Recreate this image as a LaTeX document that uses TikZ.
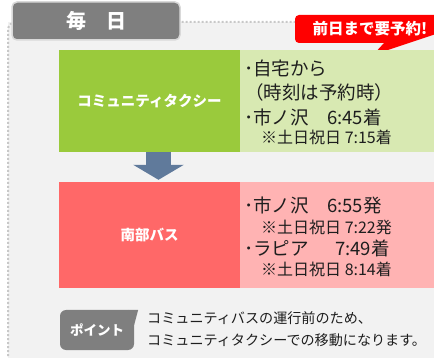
\documentclass[tikz,border=0pt]{standalone}
\usepackage{fontspec}
\setmainfont{Noto Sans CJK JP}
\usetikzlibrary{arrows.meta}

\definecolor{panelgray}{RGB}{242,242,242}
\definecolor{dotgray}{RGB}{200,200,200}
\definecolor{tabgray}{RGB}{127,127,127}
\definecolor{taxigreen}{RGB}{154,202,60}
\definecolor{taxilight}{RGB}{216,233,178}
\definecolor{busred}{RGB}{255,104,104}
\definecolor{buslight}{RGB}{255,179,179}
\definecolor{arrowblue}{RGB}{96,122,155}
\definecolor{textdark}{RGB}{30,30,30}

\tikzset{
  modebox/.style={inner sep=0pt, minimum width=181pt, minimum height=#1, text=white,
    font=\fontsize{14.5}{16}\selectfont\bfseries},
  infobox/.style={inner sep=0pt, minimum width=194pt, minimum height=#1, anchor=west},
  mainline/.style={inner sep=0pt, anchor=west, text=textdark, font=\fontsize{18.5}{20}\selectfont},
  subline/.style={inner sep=0pt, anchor=west, text=textdark, font=\fontsize{16}{17}\selectfont},
  noteline/.style={inner sep=0pt, anchor=west, text=textdark, font=\fontsize{14.1}{16}\selectfont},
  downarrow/.style={arrowblue, line width=25pt, -{Triangle[width=50pt,length=15pt]}}
}

\begin{document}
\begin{tikzpicture}[x=1pt,y=-1pt]
    \useasboundingbox (0,0) rectangle (434,358);
    \fill[panelgray] (8,22) rectangle (434,358);
    \draw[dotgray, line width=2pt, dash pattern=on 2pt off 2pt, rounded corners=8pt]
        (8,356) -- (8,22) -- (434,22);

    \node[fill=tabgray, draw=black!15, line width=1.5pt, rounded corners=5pt, inner sep=0pt,
        minimum width=168pt, minimum height=38pt, text=white,
        font=\fontsize{20}{22}\selectfont\bfseries] (day) at (96,21) {毎　日};

    \fill[red] (340,43) [rounded corners=4pt] -- (295,43) -- (295,15) [sharp corners]
        -- (436,15) -- (436,34) -- (373,55) -- (384,43) -- cycle;
    \node[inner sep=0pt, text=white, font=\fontsize{15.5}{18}\selectfont\bfseries]
        (notice) at (370,29) {前日まで要予約!};

    \node[modebox=102pt, fill=taxigreen] (taxi) at (149.5,101) {コミュニティタクシー};
    \node[infobox=102pt, fill=taxilight] (taxiinfo) at (taxi.east) {};
    \node[mainline] (t1) at (244,68) {･自宅から};
    \node[mainline] (t2) at (245,92) {（時刻は予約時）};
    \node[mainline] (t3) at (244,117) {\makebox[83pt][l]{･市ノ沢}6:45着};
    \node[subline] (t4) at (261,137) {※土日祝日 7:15着};

    \node[modebox=106pt, fill=busred] (bus) at (149.5,235) {南部バス};
    \node[infobox=106pt, fill=buslight] (businfo) at (bus.east) {};
    \node[mainline] (b1) at (244,205) {\makebox[83pt][l]{･市ノ沢}6:55発};
    \node[subline] (b2) at (261,227) {※土日祝日 7:22発};
    \node[mainline] (b3) at (244,248) {\makebox[91pt][l]{･ラピア}7:49着};
    \node[subline] (b4) at (261,269) {※土日祝日 8:14着};

    \draw[downarrow] ([xshift=9pt]taxi.south) -- ([xshift=9pt,yshift=2pt]bus.north);

    \node[fill=tabgray, rounded corners=6pt, inner sep=0pt, minimum width=74pt,
        minimum height=40pt, text=white, font=\fontsize{13.5}{15}\selectfont\bfseries]
        (point) at (97,330) {ポイント};
    \fill[tabgray] ([xshift=-6pt]point.north east) -- ([xshift=4pt]point.north east)
        -- ([yshift=-15pt]point.north east) -- ([xshift=-6pt,yshift=-15pt]point.north east) -- cycle;
    \node[noteline] (n1) at (147,318) {コミュニティバスの運行前のため、};
    \node[noteline] (n2) at (147,340) {コミュニティタクシーでの移動になります。};
\end{tikzpicture}
\end{document}
